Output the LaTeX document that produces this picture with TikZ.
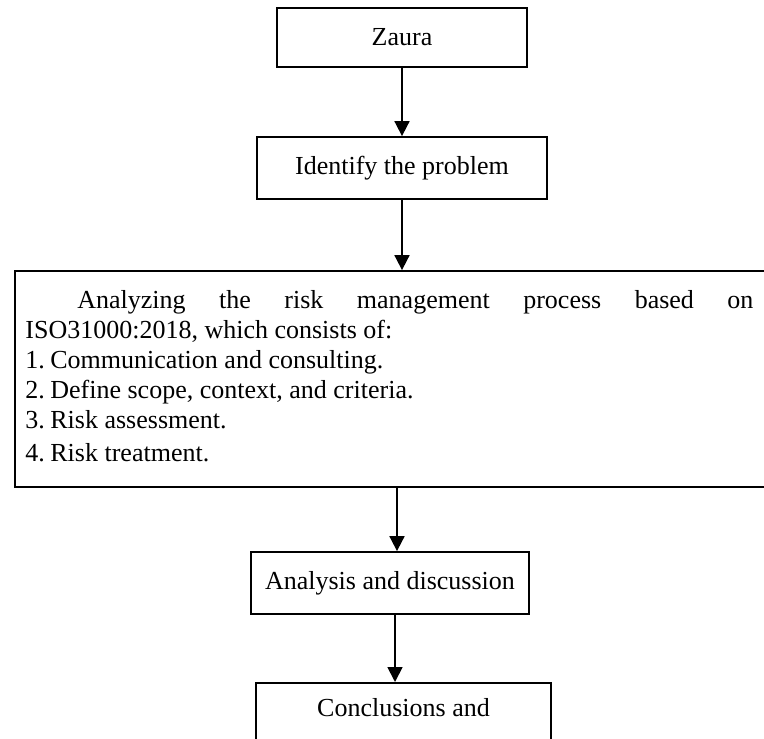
\documentclass[tikz,border=0pt]{standalone}
\usepackage{fontspec}
\setmainfont{Liberation Serif}
\usetikzlibrary{arrows.meta,calc}

\begin{document}
\begin{tikzpicture}[x=0.5pt, y=-0.5pt,
  box/.style={draw, line width=0.9pt, inner sep=0pt, font=\fontsize{13pt}{15pt}\selectfont},
  flow/.style={line width=0.9pt, -{Triangle[length=7.5pt,width=7.5pt]}}]
  \clip (0,0) rectangle (764,738);
  \node[box, minimum width=125pt, minimum height=29.5pt] (zaura) at (402,37.5) {Zaura};
  \node[box, minimum width=145pt, minimum height=31pt] (identify) at (402,168) {Identify the problem};
  \node[box, minimum width=387.5pt, minimum height=108pt] (riskbox) at (402.5,379) {};
  \node[anchor=north west, inner sep=0pt, text width=364pt, align=justify,
    font=\fontsize{13pt}{15pt}\selectfont] (risktext) at (25,290) {%
    \hspace*{26pt}Analyzing the risk management process based on\linebreak
    ISO31000:2018, which consists of:\par
    \makebox[12.5pt][l]{1.}Communication and consulting.\par
    \makebox[12.5pt][l]{2.}Define scope, context, and criteria.\par
    \makebox[12.5pt][l]{3.}Risk assessment.\par\vspace{1.5pt}
    \makebox[12.5pt][l]{4.}Risk treatment.\par};
  \node[box, minimum width=139pt, minimum height=31pt] (analysis) at (390,583) {Analysis and discussion};
  \node[box, anchor=north, minimum width=147.5pt, inner ysep=8pt, text depth=60pt] (conclusions) at (403.5,682) {Conclusions and};
  \draw[flow] (zaura) -- (identify);
  \draw[flow] (identify.south) -- (identify.south |- riskbox.north);
  \draw[flow] ($(riskbox.south)+(-5.5,0)$) -- ($(analysis.north)+(7,0)$);
  \draw[flow] ($(analysis.south)+(5,0)$) -- ($(conclusions.north)+(-8.5,0)$);
\end{tikzpicture}
\end{document}
